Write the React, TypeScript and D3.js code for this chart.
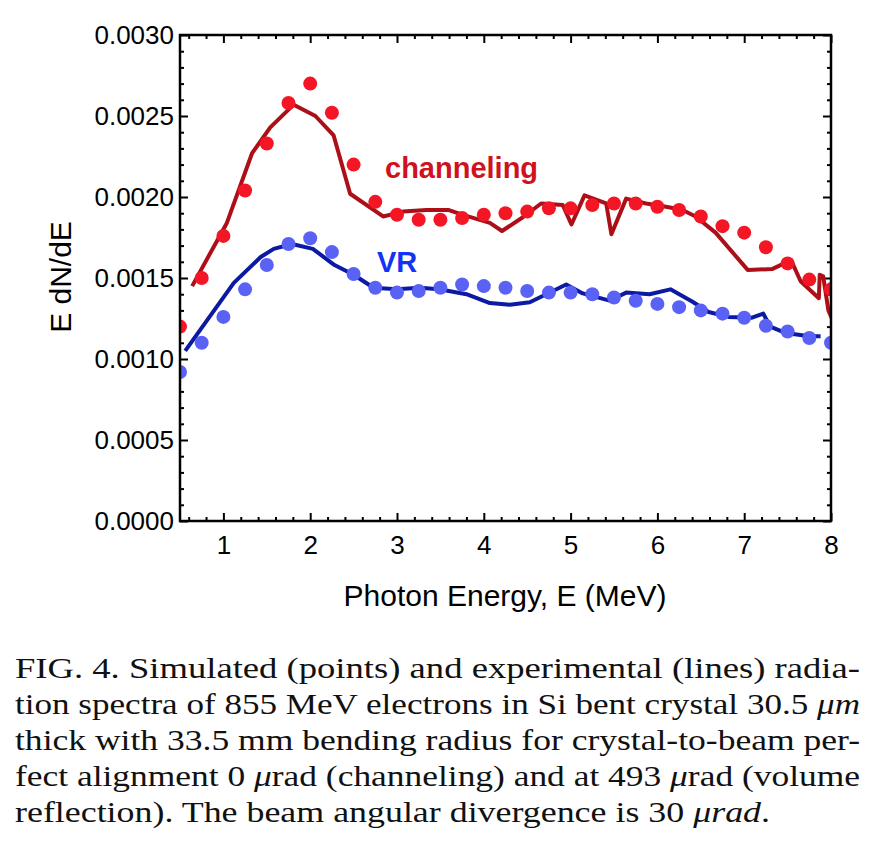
import React, { useEffect, useRef } from 'react';
import * as d3 from 'd3';

// simulated points (every 0.25 MeV)
const simEnergy = [0.5, 0.75, 1, 1.25, 1.5, 1.75, 2, 2.25, 2.5, 2.75, 3, 3.25, 3.5, 3.75, 4, 4.25,
  4.5, 4.75, 5, 5.25, 5.5, 5.75, 6, 6.25, 6.5, 6.75, 7, 7.25, 7.5, 7.75, 8];
const channelingSim = [0.00120, 0.00150, 0.00176, 0.00204, 0.00233, 0.00258, 0.00270, 0.00252, 0.00220,
  0.00197, 0.00189, 0.00186, 0.00186, 0.00187, 0.00189, 0.00190, 0.00191, 0.00193, 0.00193, 0.00195,
  0.00196, 0.00196, 0.00194, 0.00192, 0.00188, 0.00182, 0.00178, 0.00169, 0.00159, 0.00149, 0.00143];
const vrSim = [0.00092, 0.00110, 0.00126, 0.00143, 0.00158, 0.00171, 0.001745, 0.00166, 0.001525,
  0.00144, 0.00141, 0.00142, 0.00144, 0.00146, 0.00145, 0.00144, 0.00142, 0.00141, 0.00141, 0.00140,
  0.00138, 0.00136, 0.00134, 0.00132, 0.00130, 0.00128, 0.001255, 0.001205, 0.00117, 0.00113, 0.00110];

// experimental lines
const channelingExpEnergy = [0.64, 1.04, 1.33, 1.54, 1.81, 2.06, 2.27, 2.46, 2.84, 3.07, 3.34, 3.59, 3.76,
  4.07, 4.21, 4.45, 4.66, 4.91, 5.01, 5.16, 5.41, 5.47, 5.64, 5.87, 6.10, 6.29, 6.44, 6.67, 7.04, 7.32,
  7.54, 7.65, 7.86, 7.87, 7.91, 7.97, 8.05];
const channelingExp = [0.00145, 0.00184, 0.00227, 0.00243, 0.00257, 0.00250, 0.00238, 0.00202, 0.00188,
  0.00191, 0.00192, 0.00192, 0.00189, 0.00184, 0.00179, 0.001875, 0.00196, 0.00195, 0.00183, 0.00201,
  0.00196, 0.00177, 0.00199, 0.00196, 0.00194, 0.00192, 0.00188, 0.00178, 0.00155, 0.001555, 0.00161,
  0.00148, 0.001375, 0.00152, 0.00151, 0.00130, 0.00120];
const vrExpEnergy = [0.56, 1.12, 1.43, 1.58, 1.79, 2.03, 2.28, 2.50, 2.73, 3.00, 3.26, 3.49, 3.80, 4.07,
  4.30, 4.53, 4.95, 5.14, 5.45, 5.64, 5.91, 6.15, 6.40, 6.59, 6.82, 7.09, 7.22, 7.30, 7.48, 7.75, 7.88];
const vrExp = [0.00105, 0.00147, 0.00163, 0.00168, 0.00171, 0.00168, 0.00158, 0.00152, 0.00144, 0.00143,
  0.00144, 0.00143, 0.00140, 0.001345, 0.001335, 0.00135, 0.00146, 0.001405, 0.00136, 0.00141, 0.00140,
  0.00143, 0.001355, 0.00129, 0.00126, 0.001255, 0.00128, 0.00120, 0.00116, 0.00114, 0.00114];

const xTicks = [1, 2, 3, 4, 5, 6, 7, 8];
const yTicks = [0, 0.0005, 0.001, 0.0015, 0.002, 0.0025, 0.003];

const captionLines = [
  [{ t: 'FIG. 4.  Simulated (points) and experimental (lines) radia-' }],
  [{ t: 'tion spectra of 855 MeV electrons in Si bent crystal 30.5 ' }, { t: 'μm', i: true }],
  [{ t: 'thick with 33.5 mm bending radius for crystal-to-beam per-' }],
  [{ t: 'fect alignment 0 ' }, { t: 'μ', i: true }, { t: 'rad (channeling) and at 493 ' }, { t: 'μ', i: true }, { t: 'rad (volume' }],
  [{ t: 'reflection). The beam angular divergence is 30 ' }, { t: 'μrad', i: true }, { t: '.' }],
];
const captionWidths = [845, 845, 845, 845, 755];

const App = () => {
  const ref = useRef<SVGSVGElement>(null);

  useEffect(() => {
    const svg = d3.select(ref.current);
    svg.selectAll('*').remove();

    const left = 180, right = 831, top = 35, bottom = 521;
    const x = d3.scaleLinear().domain([0.5, 8]).range([left, right]);
    const y = d3.scaleLinear().domain([0, 0.003]).range([bottom, top]);
    const sans = 'Liberation Sans, Arial, Helvetica, sans-serif';

    svg.append('defs').append('clipPath').attr('id', 'plot')
      .append('rect').attr('x', left).attr('y', top)
      .attr('width', right - left).attr('height', bottom - top);

    const xMinor = x.ticks(40).filter((d) => !xTicks.includes(d));
    const yMinor = y.ticks(30).filter((d) => !yTicks.some((t) => Math.abs(t - d) < 1e-9));

    const styleAxis = (g: any) => {
      g.select('.domain').remove();
      g.selectAll('line').attr('stroke', '#000').attr('stroke-width', 2);
      g.selectAll('text').attr('font-family', sans).attr('font-size', 26).attr('fill', '#000');
    };

    // bottom
    svg.append('g').attr('transform', `translate(0,${bottom})`)
      .call(d3.axisBottom(x).tickValues(xTicks).tickSizeInner(-8).tickSizeOuter(0).tickPadding(15))
      .call(styleAxis);
    svg.append('g').attr('transform', `translate(0,${bottom})`)
      .call(d3.axisBottom(x).tickValues(xMinor).tickSizeInner(-4).tickSizeOuter(0).tickFormat(() => ''))
      .call(styleAxis);
    // top
    svg.append('g').attr('transform', `translate(0,${top})`)
      .call(d3.axisTop(x).tickValues(xTicks).tickSizeInner(-8).tickSizeOuter(0).tickFormat(() => ''))
      .call(styleAxis);
    svg.append('g').attr('transform', `translate(0,${top})`)
      .call(d3.axisTop(x).tickValues(xMinor).tickSizeInner(-4).tickSizeOuter(0).tickFormat(() => ''))
      .call(styleAxis);
    // left
    svg.append('g').attr('transform', `translate(${left},0)`)
      .call(d3.axisLeft(y).tickValues(yTicks).tickSizeInner(-8).tickSizeOuter(0).tickPadding(6)
        .tickFormat(d3.format('.4f') as any))
      .call(styleAxis);
    svg.append('g').attr('transform', `translate(${left},0)`)
      .call(d3.axisLeft(y).tickValues(yMinor).tickSizeInner(-4).tickSizeOuter(0).tickFormat(() => ''))
      .call(styleAxis);
    // right
    svg.append('g').attr('transform', `translate(${right},0)`)
      .call(d3.axisRight(y).tickValues(yTicks).tickSizeInner(-8).tickSizeOuter(0).tickFormat(() => ''))
      .call(styleAxis);
    svg.append('g').attr('transform', `translate(${right},0)`)
      .call(d3.axisRight(y).tickValues(yMinor).tickSizeInner(-4).tickSizeOuter(0).tickFormat(() => ''))
      .call(styleAxis);

    const plot = svg.append('g').attr('clip-path', 'url(#plot)');
    const line = d3.line<[number, number]>().x((d) => x(d[0])).y((d) => y(d[1]));

    plot.append('path')
      .attr('d', line(channelingExpEnergy.map((e, i) => [e, channelingExp[i]]) as [number, number][]))
      .attr('fill', 'none').attr('stroke', '#ad0f19').attr('stroke-width', 4).attr('stroke-linejoin', 'round');
    plot.append('path')
      .attr('d', line(vrExpEnergy.map((e, i) => [e, vrExp[i]]) as [number, number][]))
      .attr('fill', 'none').attr('stroke', '#0c1aa3').attr('stroke-width', 4).attr('stroke-linejoin', 'round');

    plot.selectAll('.chan').data(simEnergy).enter().append('circle')
      .attr('cx', (d) => x(d)).attr('cy', (d, i) => y(channelingSim[i])).attr('r', 7)
      .attr('fill', '#f41525');
    plot.selectAll('.vr').data(simEnergy).enter().append('circle')
      .attr('cx', (d) => x(d)).attr('cy', (d, i) => y(vrSim[i])).attr('r', 7)
      .attr('fill', '#5a62f5');

    svg.append('rect').attr('x', left).attr('y', top)
      .attr('width', right - left).attr('height', bottom - top)
      .attr('fill', 'none').attr('stroke', '#000').attr('stroke-width', 2.5);

    svg.append('text').attr('x', 385).attr('y', 178).text('channeling')
      .attr('font-family', sans).attr('font-weight', 'bold').attr('font-size', 29).attr('fill', '#d0111e');
    svg.append('text').attr('x', 377).attr('y', 272).text('VR')
      .attr('font-family', sans).attr('font-weight', 'bold').attr('font-size', 29).attr('fill', '#1432f5');

    svg.append('text').attr('transform', 'translate(71,277) rotate(-90)').attr('text-anchor', 'middle')
      .attr('font-family', sans).attr('font-size', 30).text('E dN/dE');
    svg.append('text').attr('x', 505).attr('y', 606).attr('text-anchor', 'middle')
      .attr('font-family', sans).attr('font-size', 30).text('Photon Energy, E (MeV)');

    // caption, justified like the paper
    const cap = svg.append('g').attr('font-family', 'Liberation Serif, Times New Roman, serif')
      .attr('font-size', 30).attr('fill', '#111');
    captionLines.forEach((parts, i) => {
      const t = cap.append('text').attr('x', 15).attr('y', 678 + i * 36)
        .attr('textLength', captionWidths[i]).attr('lengthAdjust', 'spacingAndGlyphs');
      parts.forEach((p: any) => {
        t.append('tspan').text(p.t).attr('font-style', p.i ? 'italic' : null);
      });
    });
  }, []);

  return (
    <svg ref={ref} width={892} height={850}
      style={{ position: 'absolute', left: 0, top: 0, background: '#fff' }} />
  );
};

export default App;
